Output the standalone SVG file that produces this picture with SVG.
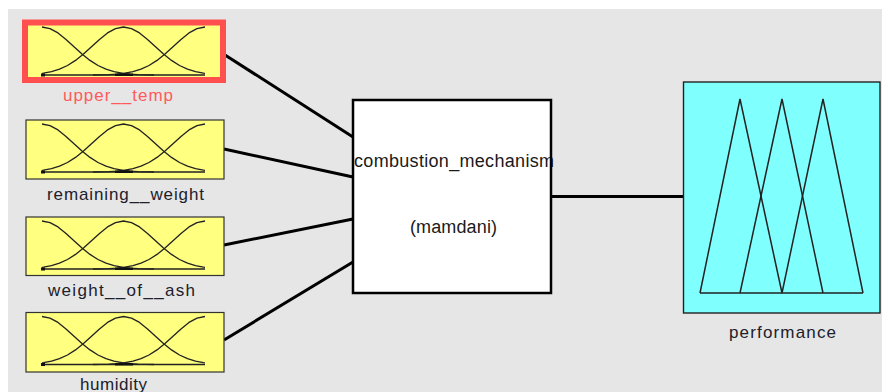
<svg xmlns="http://www.w3.org/2000/svg" width="882" height="392" viewBox="0 0 882 392">
  <style>
    .lbl { font-family: "Liberation Sans", Arial, sans-serif; font-size: 17px; fill: #20202c; }
    .sel { fill: #ff5a5a; }
    .ctr { font-family: "Liberation Sans", Arial, sans-serif; font-size: 18px; fill: #1a1a1a; }
    .inbox { fill: #ffff80; stroke: #333; stroke-width: 1.2; }
    .mf { fill: none; stroke: #222; stroke-width: 1.3; stroke-linejoin: round; }
    .wire { stroke: #000; stroke-width: 3; fill: none; }
  </style>
  <defs>
    <!-- three gaussian membership curves over x 42..205, height 48 -->
    <g id="mf3">
      <path class="mf" d="M42,0 L50,1.6 L58,5.9 L66,12.4 L74,19.7 L82,27 L90,33.4 L98,38.5 L106,42.2 L114,44.7 L122,46.2 L130,47.1 L138,47.6 L146,47.8 L154,48"/>
      <path class="mf" d="M205,0 L197,1.6 L189,5.9 L181,12.4 L173,19.7 L165,27 L157,33.4 L149,38.5 L141,42.2 L133,44.7 L125,46.2 L117,47.1 L109,47.6 L101,47.8 L93,48"/>
      <path class="mf" d="M42,46.4 L43.5,46.2 L51.5,44.7 L59.5,42.2 L67.5,38.5 L75.5,33.4 L83.5,27 L91.5,19.7 L99.5,12.4 L107.5,5.9 L115.5,1.6 L123.5,0 L131.5,1.6 L139.5,5.9 L147.5,12.4 L155.5,19.7 L163.5,27 L171.5,33.4 L179.5,38.5 L187.5,42.2 L195.5,44.7 L203.5,46.2 L205,46.4"/>
      <line x1="42" y1="48" x2="205" y2="48" stroke="#222" stroke-width="1.6"/>
      <rect x="41" y="46.5" width="4" height="3" fill="#111"/>
      <rect x="115" y="46.5" width="18" height="2.5" fill="#111"/>
    </g>
  </defs>

  <rect x="0" y="0" width="882" height="392" fill="#ffffff"/>
  <rect x="8" y="9" width="874" height="383" fill="#e6e6e6"/>

  <!-- connectors -->
  <g id="connectors">
    <line class="wire" x1="225" y1="55" x2="353" y2="137"/>
    <line class="wire" x1="224" y1="149" x2="353" y2="177"/>
    <line class="wire" x1="224" y1="245" x2="353" y2="219"/>
    <line class="wire" x1="224" y1="340" x2="353" y2="262"/>
    <line class="wire" x1="551" y1="196.5" x2="683" y2="196.5"/>
  </g>

  <!-- inputs -->
  <g id="upper_temp">
    <rect class="inbox" x="26" y="23" width="198" height="58"/>
    <use href="#mf3" y="27"/>
    <rect x="25" y="22.5" width="198" height="57.5" fill="none" stroke="#ff4f4f" stroke-width="6"/>
    <text class="lbl sel" x="63" y="101" textLength="110" lengthAdjust="spacing">upper__temp</text>
  </g>

  <g id="remaining_weight">
    <rect class="inbox" x="26" y="120" width="198" height="59"/>
    <use href="#mf3" y="124"/>
    <text class="lbl" x="47" y="200" textLength="157" lengthAdjust="spacing">remaining__weight</text>
  </g>

  <g id="weight_of_ash">
    <rect class="inbox" x="26" y="217" width="198" height="58.5"/>
    <use href="#mf3" y="221"/>
    <text class="lbl" x="48" y="296" textLength="147" lengthAdjust="spacing">weight__of__ash</text>
  </g>

  <g id="humidity">
    <rect class="inbox" x="26" y="312.5" width="198" height="59.5"/>
    <use href="#mf3" y="316.5"/>
    <text class="lbl" x="80" y="390" textLength="67" lengthAdjust="spacing">humidity</text>
  </g>

  <!-- rule block -->
  <g id="combustion_mechanism">
    <rect x="353" y="100" width="198" height="193" fill="#ffffff"/>
    <text class="ctr" x="354" y="167" textLength="200" lengthAdjust="spacing">combustion_mechanism</text>
    <text class="ctr" x="410" y="233" textLength="87" lengthAdjust="spacing">(mamdani)</text>
    <rect x="353" y="100" width="198" height="193" fill="none" stroke="#000" stroke-width="2.5"/>
  </g>

  <!-- output -->
  <g id="performance">
    <rect x="683.5" y="82" width="196.5" height="231" fill="#80ffff" stroke="#222" stroke-width="1.4"/>
    <g fill="none" stroke="#222" stroke-width="1.5" stroke-linejoin="miter">
      <polyline points="700,293 740,99 782,293"/>
      <polyline points="740,293 782,99 823,293"/>
      <polyline points="782,293 823,99 863,293"/>
      <line x1="700" y1="293" x2="863" y2="293"/>
    </g>
    <text class="lbl" x="729" y="338" textLength="107" lengthAdjust="spacing">performance</text>
  </g>
</svg>
